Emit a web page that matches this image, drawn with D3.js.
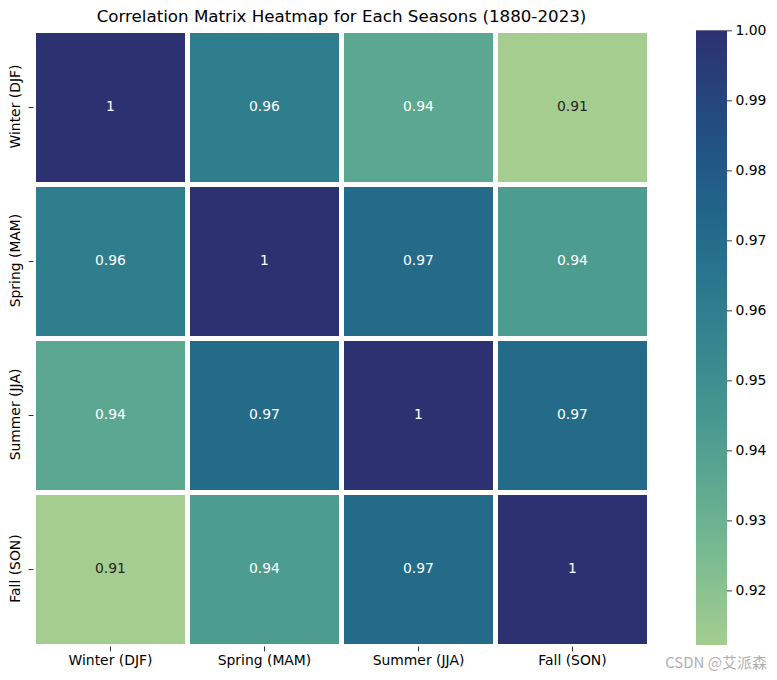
<!DOCTYPE html>
<html>
<head>
<meta charset="utf-8">
<script src="https://cdn.jsdelivr.net/npm/d3@7"></script>
<style>
  html, body { margin: 0; padding: 0; background: #fff; }
  svg { display: block; font-family: "DejaVu Sans", sans-serif; }
</style>
</head>
<body>
<svg id="chart" width="777" height="680"></svg>
<script>
// ---- data ----
const seasons = ["Winter (DJF)", "Spring (MAM)", "Summer (JJA)", "Fall (SON)"];
const rowWinter = [1.0, 0.960, 0.936, 0.9122];
const rowSpring = [0.960, 1.0, 0.971, 0.942];
const rowSummer = [0.936, 0.971, 1.0, 0.971];
const rowFall   = [0.9122, 0.942, 0.971, 1.0];
const matrix = [rowWinter, rowSpring, rowSummer, rowFall];
const colorbarTicks = [0.92, 0.93, 0.94, 0.95, 0.96, 0.97, 0.98, 0.99, 1.00];
const titleText = "Correlation Matrix Heatmap for Each Seasons (1880-2023)";

// crest-like colormap stops
const crestStops = ["#a5cd90", "#80be91", "#5eaa91", "#46978f", "#34848f", "#26728c", "#1f5e88", "#24487e", "#2c3172"];
const crest = d3.interpolateRgbBasis(crestStops);

const vmin = d3.min(matrix.flat()), vmax = d3.max(matrix.flat());
const color = d3.scaleSequential(crest).domain([vmin, vmax]);

const svg = d3.select("#chart");
const mLeft = 33.5, mTop = 30.5, size = 616;
const x = d3.scaleBand().domain(seasons).range([mLeft, mLeft + size]);
const y = d3.scaleBand().domain(seasons).range([mTop, mTop + size]);

const cells = [];
matrix.forEach((row, i) => row.forEach((v, j) => cells.push({r: seasons[i], c: seasons[j], v})));

svg.append("g").selectAll("rect").data(cells).join("rect")
  .attr("x", d => x(d.c)).attr("y", d => y(d.r))
  .attr("width", x.bandwidth()).attr("height", y.bandwidth())
  .attr("fill", d => color(d.v))
  .attr("stroke", "#fff").attr("stroke-width", 5);

function lum(c) {
  const rgb = d3.rgb(c);
  const f = v => { v /= 255; return v <= 0.03928 ? v / 12.92 : Math.pow((v + 0.055) / 1.055, 2.4); };
  return 0.2126 * f(rgb.r) + 0.7152 * f(rgb.g) + 0.0722 * f(rgb.b);
}
const fmt = d3.format(".2~g");

svg.append("g").selectAll("text").data(cells).join("text")
  .attr("x", d => x(d.c) + x.bandwidth() / 2)
  .attr("y", d => y(d.r) + y.bandwidth() / 2 - 1.5)
  .attr("text-anchor", "middle").attr("dominant-baseline", "central")
  .attr("font-size", "13.9px")
  .attr("fill", d => lum(color(d.v)) > 0.408 ? "#262626" : "#ffffff")
  .text(d => fmt(d.v));

// axes
const xAxis = svg.append("g").attr("transform", `translate(0,${mTop + size})`)
  .call(d3.axisBottom(x).tickSize(4.9).tickPadding(3.5));
const yAxis = svg.append("g").attr("transform", `translate(${mLeft},0)`)
  .call(d3.axisLeft(y).tickSize(4.9).tickPadding(3.5));
[xAxis, yAxis].forEach(a => {
  a.select(".domain").remove();
  a.selectAll("line").attr("stroke", "#000").attr("stroke-width", 0.8);
  a.selectAll("text").attr("font-size", "13.9px").attr("fill", "#000").attr("font-family", "DejaVu Sans");
});
yAxis.selectAll(".tick text")
  .attr("x", null).attr("dy", null)
  .attr("text-anchor", "middle")
  .attr("transform", "translate(-19,-1) rotate(-90)")
  .attr("dominant-baseline", "central");

// title
svg.append("text").attr("x", mLeft + size / 2).attr("y", 22)
  .attr("text-anchor", "middle").attr("font-size", "16.7px").attr("fill", "#000")
  .text(titleText);

// colorbar
const cbX = 696, cbW = 31;
const cy = d3.scaleLinear().domain([vmin, vmax]).range([645, 30.3]);
const defs = svg.append("defs");
const grad = defs.append("linearGradient").attr("id", "cbgrad")
  .attr("x1", 0).attr("y1", 1).attr("x2", 0).attr("y2", 0);
d3.range(0, 1.0001, 0.05).forEach(t => {
  grad.append("stop").attr("offset", t).attr("stop-color", crest(t));
});
svg.append("rect").attr("x", cbX).attr("y", cy(vmax)).attr("width", cbW)
  .attr("height", cy(vmin) - cy(vmax)).attr("fill", "url(#cbgrad)");
const cbAxis = svg.append("g").attr("transform", `translate(${cbX + cbW},0)`)
  .call(d3.axisRight(cy).tickValues(colorbarTicks).tickFormat(d3.format(".2f")).tickSize(4.9).tickPadding(3.5));
cbAxis.select(".domain").remove();
cbAxis.selectAll("line").attr("stroke", "#000").attr("stroke-width", 0.8);
cbAxis.selectAll("text").attr("font-size", "13.9px").attr("fill", "#000").attr("font-family", "DejaVu Sans");

// watermark
svg.append("text").attr("x", 767).attr("y", 668).attr("text-anchor", "end")
  .attr("font-size", "15px").attr("fill", "#b0b0b0")
  .attr("font-family", "'Noto Sans CJK SC', 'DejaVu Sans', sans-serif")
  .text("CSDN @艾派森");
</script>
</body>
</html>
